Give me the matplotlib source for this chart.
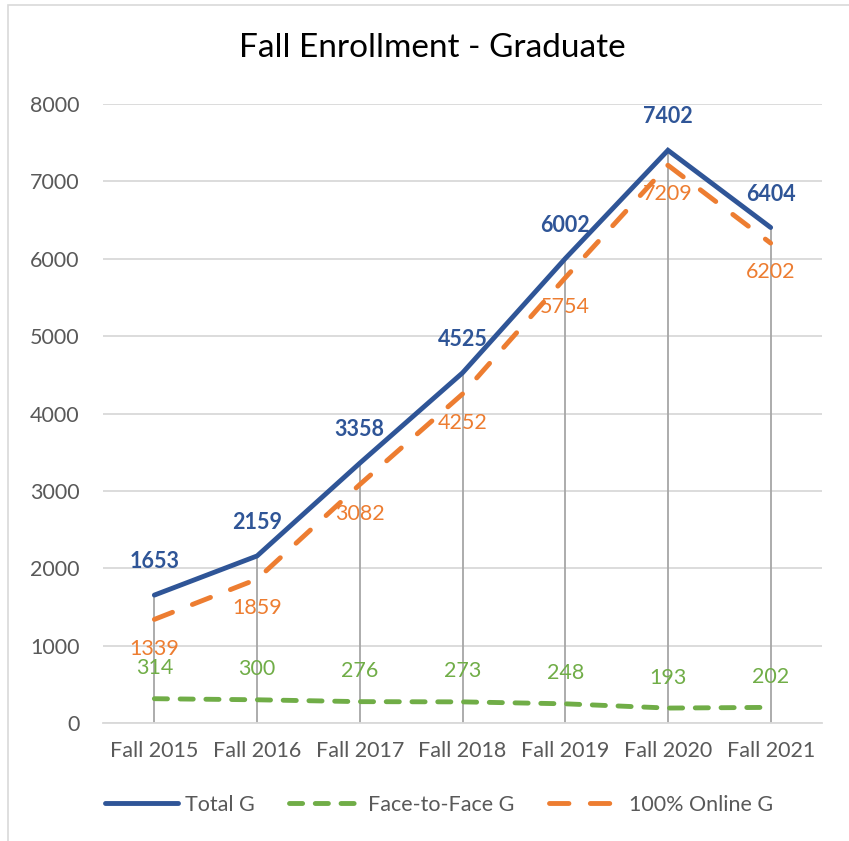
import matplotlib
matplotlib.use("Agg")
import matplotlib.pyplot as plt
from matplotlib.patches import Rectangle

categories = ["Fall 2015", "Fall 2016", "Fall 2017", "Fall 2018", "Fall 2019", "Fall 2020", "Fall 2021"]
total_g = [1653, 2159, 3358, 4525, 6002, 7402, 6404]
f2f_g = [314, 300, 276, 273, 248, 193, 202]
online_g = [1339, 1859, 3082, 4252, 5754, 7209, 6202]
yticks = [0, 1000, 2000, 3000, 4000, 5000, 6000, 7000, 8000]

plt.rcParams['font.family'] = ['Lato', 'DejaVu Sans']

BLUE = "#2F5597"
ORANGE = "#ED7D31"
GREEN = "#70AD47"
GRAY_TXT = "#595959"

fig = plt.figure(figsize=(8.49, 8.41), dpi=100)
ax = fig.add_axes([103/849, 1-723/841, (822-103)/849, (723-104)/841])

x = list(range(len(categories)))

# drop lines
for xi, yi in zip(x, total_g):
    ax.plot([xi, xi], [0, yi], color="#A6A6A6", lw=1.3, zorder=2)

LW = 3.5
ax.plot(x, total_g, color=BLUE, lw=LW, solid_capstyle="round", solid_joinstyle="miter", zorder=5, label="Total G")
ax.plot(x, f2f_g, color=GREEN, lw=LW, dashes=(2.7, 2.6), dash_capstyle="round", zorder=4, label="Face-to-Face G")
ax.plot(x, online_g, color=ORANGE, lw=LW, dashes=(4.0, 4.4), dash_capstyle="round", zorder=4, label="100% Online G")

FS = 15.5
for xi, v in zip(x, total_g):
    ax.annotate(str(v), (xi, v), xytext=(0, 24), textcoords="offset points",
                ha="center", va="center", color=BLUE, fontsize=FS, fontweight="bold", zorder=6)
for xi, v in zip(x, online_g):
    ax.annotate(str(v), (xi, v), xytext=(0, -21), textcoords="offset points",
                ha="center", va="center", color=ORANGE, fontsize=FS, zorder=6)
for xi, v in zip(x, f2f_g):
    ax.annotate(str(v), (xi, v), xytext=(0, 22), textcoords="offset points",
                ha="center", va="center", color=GREEN, fontsize=FS, zorder=6)

ax.set_xlim(-0.5, len(categories) - 0.5)
ax.set_ylim(0, 8000)
ax.set_yticks(yticks)
ax.set_yticklabels([str(t) for t in yticks])
ax.set_xticks(x)
ax.set_xticklabels(categories)
ax.tick_params(axis="both", length=0, labelsize=FS, colors=GRAY_TXT)
ax.tick_params(axis="y", pad=17)
ax.tick_params(axis="x", pad=13)
ax.grid(axis="y", color="#D9D9D9", lw=1.3)
ax.set_axisbelow(True)
for s in ["top", "right", "left"]:
    ax.spines[s].set_visible(False)
ax.spines["bottom"].set_color("#D9D9D9")
ax.spines["bottom"].set_linewidth(1.3)

fig.text(432/849, 1-48/841, "Fall Enrollment - Graduate", ha="center", va="center", fontsize=24, color="black")

leg = fig.legend(loc="center", bbox_to_anchor=(439/849, 1-805/841), ncol=3, frameon=False,
                 fontsize=FS, handlelength=3.4, columnspacing=1.6, handletextpad=0.3)
for t in leg.get_texts():
    t.set_color(GRAY_TXT)

# chart border
fig.patches.append(Rectangle((8/849, -0.1), 1, 1.1 - 5/841, transform=fig.transFigure,
                             fill=False, edgecolor="#D9D9D9", lw=1.2))

fig.savefig("out.png", dpi=100)
